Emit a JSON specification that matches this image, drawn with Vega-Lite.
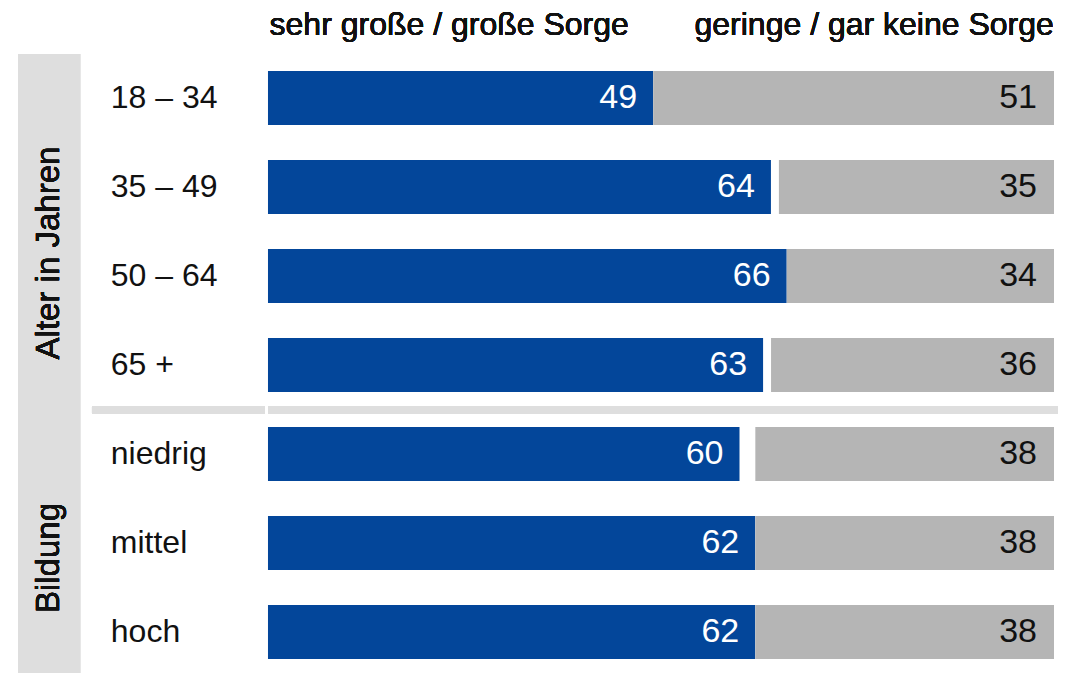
{
  "$schema": "https://vega.github.io/schema/vega-lite/v6.json",
  "width": 1079,
  "height": 673,
  "autosize": "none",
  "padding": 0,
  "background": "white",
  "view": {"stroke": null},
  "config": {"font": "Liberation Sans"},
  "data": {
    "values": [
      {"label": "18 – 34", "row": 1, "sorge": 49, "keine": 51},
      {"label": "35 – 49", "row": 2, "sorge": 64, "keine": 35},
      {"label": "50 – 64", "row": 3, "sorge": 66, "keine": 34},
      {"label": "65 +", "row": 4, "sorge": 63, "keine": 36},
      {"label": "niedrig", "row": 5, "sorge": 60, "keine": 38},
      {"label": "mittel", "row": 6, "sorge": 62, "keine": 38},
      {"label": "hoch", "row": 7, "sorge": 62, "keine": 38}
    ]
  },
  "resolve": {"scale": {"x": "independent"}},
  "layer": [
    {
      "layer": [
        {
          "mark": {"type": "rect", "color": "#DEDEDE"},
          "encoding": {
            "x": {"datum": -31.8, "type": "quantitative", "scale": {"domain": [-34.1, 103.2], "nice": false, "zero": false, "padding": 0}, "axis": null},
            "x2": {"datum": -23.9},
            "y": {"datum": 0.506, "type": "quantitative", "scale": {"domain": [-0.101, 7.461], "reverse": true, "nice": false, "zero": false, "padding": 0}, "axis": null},
            "y2": {"datum": 7.461}
          }
        },
        {
          "mark": {"type": "text", "angle": 270, "fontSize": 33, "align": "center", "baseline": "middle", "color": "#111111"},
          "encoding": {
            "x": {"datum": -27.85, "type": "quantitative"},
            "y": {"datum": 2.742, "type": "quantitative"},
            "text": {"value": "Alter in Jahren"}
          }
        },
        {
          "mark": {"type": "text", "angle": 270, "fontSize": 33, "align": "center", "baseline": "middle", "color": "#111111"},
          "encoding": {
            "x": {"datum": -27.85, "type": "quantitative"},
            "y": {"datum": 6.169, "type": "quantitative"},
            "text": {"value": "Bildung"}
          }
        },
        {
          "mark": {"type": "rule", "color": "#DEDEDE", "strokeWidth": 7},
          "encoding": {
            "x": {"datum": -22.4, "type": "quantitative"},
            "x2": {"datum": -0.4},
            "y": {"datum": 4.506, "type": "quantitative"}
          }
        },
        {
          "mark": {"type": "rule", "color": "#DEDEDE", "strokeWidth": 7},
          "encoding": {
            "x": {"datum": 0, "type": "quantitative"},
            "x2": {"datum": 100.5},
            "y": {"datum": 4.506, "type": "quantitative"}
          }
        },
        {
          "mark": {"type": "text", "fontSize": 32, "align": "left", "baseline": "alphabetic", "color": "#111111"},
          "encoding": {
            "x": {"datum": 0.2, "type": "quantitative"},
            "y": {"datum": 0.292, "type": "quantitative"},
            "text": {"value": "sehr große / große Sorge"}
          }
        },
        {
          "mark": {"type": "text", "fontSize": 32, "align": "right", "baseline": "alphabetic", "color": "#111111"},
          "encoding": {
            "x": {"datum": 100, "type": "quantitative"},
            "y": {"datum": 0.292, "type": "quantitative"},
            "text": {"value": "geringe / gar keine Sorge"}
          }
        },
        {
          "mark": {"type": "text", "fontSize": 32, "align": "left", "baseline": "middle", "color": "#111111"},
          "encoding": {
            "x": {"datum": -20, "type": "quantitative"},
            "y": {"field": "row", "type": "quantitative"},
            "text": {"field": "label", "type": "nominal"}
          }
        },
        {
          "mark": {"type": "bar", "color": "#03469A", "size": 54, "orient": "horizontal"},
          "encoding": {
            "x": {"field": "sorge", "type": "quantitative"},
            "x2": {"datum": 0},
            "y": {"field": "row", "type": "quantitative"}
          }
        },
        {
          "mark": {"type": "text", "fontSize": 34, "align": "right", "baseline": "middle", "color": "white", "dx": -16},
          "encoding": {
            "x": {"field": "sorge", "type": "quantitative"},
            "y": {"field": "row", "type": "quantitative"},
            "text": {"field": "sorge", "type": "quantitative"}
          }
        }
      ]
    },
    {
      "layer": [
        {
          "mark": {"type": "bar", "color": "#B5B5B5", "size": 54, "orient": "horizontal"},
          "encoding": {
            "x": {"field": "keine", "type": "quantitative", "scale": {"domain": [-3.18, 134.1], "reverse": true, "nice": false, "zero": false, "padding": 0}, "axis": null},
            "x2": {"datum": 0},
            "y": {"field": "row", "type": "quantitative"}
          }
        },
        {
          "mark": {"type": "text", "fontSize": 34, "align": "right", "baseline": "middle", "color": "#111111", "dx": -17},
          "encoding": {
            "x": {"datum": 0, "type": "quantitative"},
            "y": {"field": "row", "type": "quantitative"},
            "text": {"field": "keine", "type": "quantitative"}
          }
        }
      ]
    }
  ]
}
